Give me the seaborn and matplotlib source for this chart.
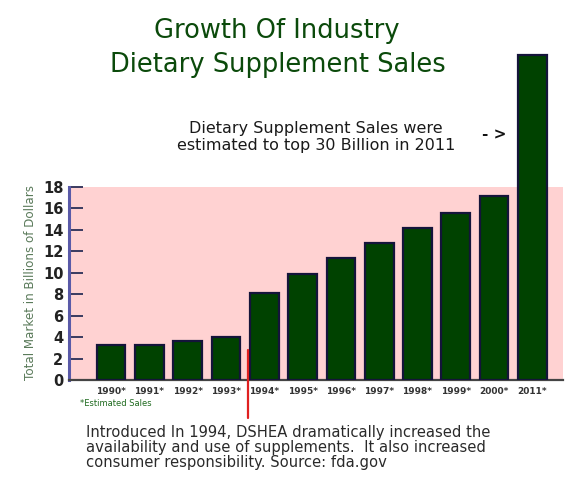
import matplotlib
matplotlib.use("Agg")
import matplotlib.pyplot as plt
import seaborn as sns
import pandas as pd

years = ["1990*", "1991*", "1992*", "1993*", "1994*", "1995*", "1996*",
         "1997*", "1998*", "1999*", "2000*", "2011*"]
sales = [3.3, 3.3, 3.6, 4.0, 8.1, 9.9, 11.4, 12.8, 14.2, 15.6, 17.2, 30.3]
yticks = [0, 2, 4, 6, 8, 10, 12, 14, 16, 18]

df = pd.DataFrame({"year": years, "sales": sales})

sns.set_style("white")
plt.rcParams["font.family"] = ["DejaVu Sans"]

W, H = 582, 480
fig = plt.figure(figsize=(W / 100, H / 100), dpi=100)
fig.patch.set_facecolor("white")


def fx(x):
    return x / W


def fy(y):
    return 1 - y / H


ax = fig.add_axes([fx(69), fy(380), (563 - 69) / W, (380 - 52) / H])
ax.set_facecolor("none")

sns.barplot(data=df, x="year", y="sales", color="#004200", saturation=1,
            width=0.75, edgecolor="#14143a", linewidth=1.6, ax=ax, zorder=3)

ax.set_xlim(-1.1, 11.8)
ax.set_ylim(0, 30.6)
ax.axhspan(0, 18, color="#ffd2d2", zorder=0, lw=0)

ax.set_yticks(yticks)
ax.set_yticklabels([str(t) for t in yticks], fontsize=10.5, fontweight="bold",
                   color="#222222")
ax.tick_params(axis="y", direction="in", length=10, width=1.4,
               color="#3a3a60", pad=4, left=True)
ax.tick_params(axis="x", length=0, pad=5, labelsize=6.5, labelcolor="#333333")
for lab in ax.get_xticklabels():
    lab.set_fontweight("bold")

for s in ["top", "right"]:
    ax.spines[s].set_visible(False)
ax.spines["left"].set_bounds(0, 18)
ax.spines["left"].set_color("#5a5aa8")
ax.spines["left"].set_linewidth(2.2)
ax.spines["bottom"].set_color("#444444")
ax.spines["bottom"].set_linewidth(1.6)
ax.set_xlabel("")
ax.set_ylabel("")

# red marker line for 1994 DSHEA
ax.plot([3.58, 3.58], [2.8, -3.55], color="#e02020", lw=1.6,
        clip_on=False, zorder=5)

green = "#0b4a0b"
fig.text(fx(277), fy(38), "Growth Of Industry", ha="center", va="baseline",
         fontsize=18.5, color=green)
fig.text(fx(278), fy(72), "Dietary Supplement Sales", ha="center",
         va="baseline", fontsize=18.5, color=green)

fig.text(fx(316), fy(133), "Dietary Supplement Sales were", ha="center",
         va="baseline", fontsize=11.5, color="#1a1a1a")
fig.text(fx(316), fy(150), "estimated to top 30 Billion in 2011", ha="center",
         va="baseline", fontsize=11.5, color="#1a1a1a")
fig.text(fx(494), fy(139), "- >", ha="center", va="baseline",
         fontsize=11, fontweight="bold", color="#111111")

fig.text(fx(31), fy(282), "Total Market in Billions of Dollars",
         rotation=90, ha="center", va="center", fontsize=8.6,
         color="#5a7a5a")

fig.text(fx(80), fy(406), "*Estimated Sales", ha="left", va="baseline",
         fontsize=6, color="#1f6a1f")

fig.text(fx(86), fy(437),
         "Introduced In 1994, DSHEA dramatically increased the",
         ha="left", va="baseline", fontsize=10.6, color="#2a2a2a")
fig.text(fx(86), fy(452),
         "availability and use of supplements.  It also increased",
         ha="left", va="baseline", fontsize=10.6, color="#2a2a2a")
fig.text(fx(86), fy(467),
         "consumer responsibility. Source: fda.gov",
         ha="left", va="baseline", fontsize=10.6, color="#2a2a2a")

fig.savefig("out.png", dpi=100, facecolor="white")
